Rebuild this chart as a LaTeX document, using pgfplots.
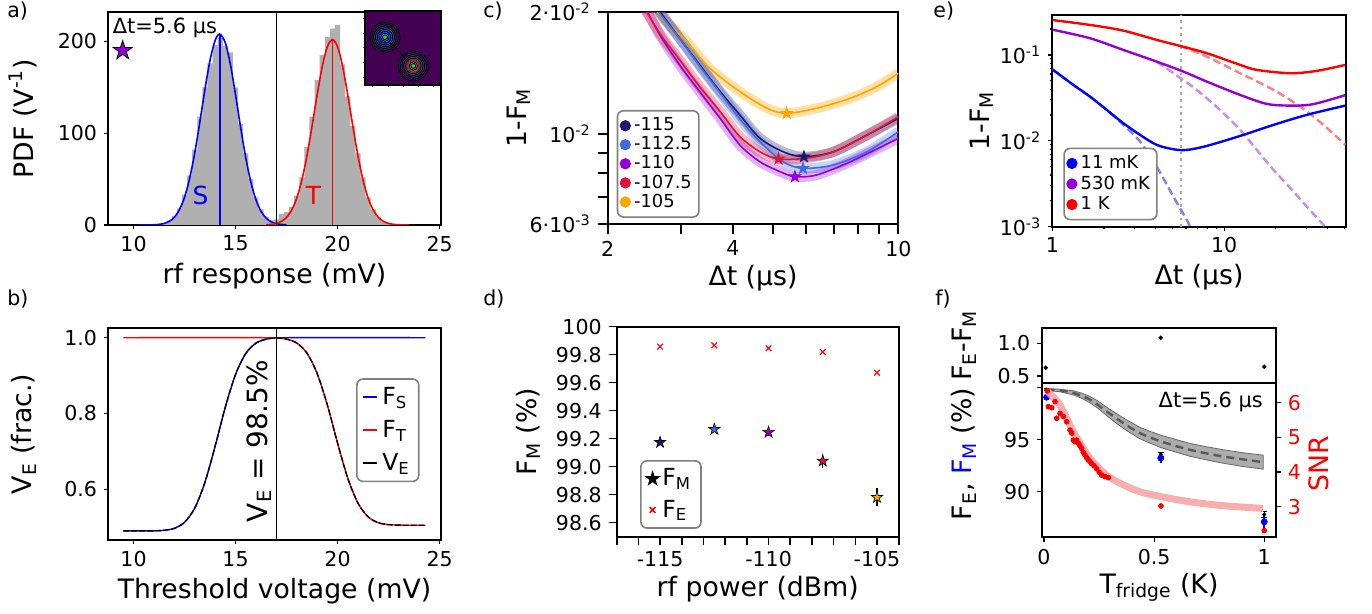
\documentclass[border=0pt]{standalone}
\usepackage{fontspec}
\setmainfont{DejaVu Sans}
\usepackage{pgfplots}
\pgfplotsset{compat=1.18}
\definecolor{histgray}{HTML}{B0B0B0}
\definecolor{cA}{HTML}{191970}
\definecolor{cB}{HTML}{4169E1}
\definecolor{cC}{HTML}{9400D3}
\definecolor{cD}{HTML}{DC143C}
\definecolor{cE}{HTML}{FFA500}
\definecolor{virA}{HTML}{440154}
\definecolor{virB}{HTML}{31688E}
\definecolor{virC}{HTML}{21918C}
\definecolor{virD}{HTML}{35B779}
\definecolor{virE}{HTML}{90D743}
\definecolor{pinkband}{HTML}{F4A0A0}
\definecolor{dblue}{HTML}{8080FF}
\definecolor{dpurple}{HTML}{C98AEB}
\definecolor{dred}{HTML}{FF8080}
\newcommand{\tickfont}{\fontsize{10.3}{12}\selectfont}
\newcommand{\labfont}{\fontsize{13.4}{16}\selectfont}
\newcommand{\legfont}{\fontsize{9}{10.4}\selectfont}
\newcommand{\legfontb}{\fontsize{11.8}{13.5}\selectfont}
\pgfdeclareplotmark{fstar}{%
  \pgfpathmoveto{\pgfpointpolar{90}{\pgfplotmarksize}}%
  \pgfpathlineto{\pgfpointpolar{126}{0.382*\pgfplotmarksize}}%
  \pgfpathlineto{\pgfpointpolar{162}{\pgfplotmarksize}}%
  \pgfpathlineto{\pgfpointpolar{198}{0.382*\pgfplotmarksize}}%
  \pgfpathlineto{\pgfpointpolar{234}{\pgfplotmarksize}}%
  \pgfpathlineto{\pgfpointpolar{270}{0.382*\pgfplotmarksize}}%
  \pgfpathlineto{\pgfpointpolar{306}{\pgfplotmarksize}}%
  \pgfpathlineto{\pgfpointpolar{342}{0.382*\pgfplotmarksize}}%
  \pgfpathlineto{\pgfpointpolar{18}{\pgfplotmarksize}}%
  \pgfpathlineto{\pgfpointpolar{54}{0.382*\pgfplotmarksize}}%
  \pgfpathclose
  \pgfusepathqfillstroke
}
\pgfplotsset{
 myaxis/.style={scale only axis, anchor=south west, tick align=outside,
   xtick pos=left, ytick pos=left, tick label style={font=\tickfont},
   label style={font=\labfont}, axis line style={line width=0.8bp},
   major tick length=2bp, minor tick length=2bp,
   tick style={black, line width=0.6bp}, legend cell align=left},
 myleg/.style={legend style={draw=gray, line width=0.8bp, rounded corners=3bp, fill=white,
   inner xsep=1.5bp, inner ysep=1bp, anchor=north west}},
}
\begin{document}
\begin{tikzpicture}
\useasboundingbox (0,0) rectangle (686bp,307bp);
% panel letters
\node[anchor=north west, inner sep=0, font=\tickfont] at (3.5bp,306bp) {a)};
\node[anchor=north west, inner sep=0, font=\tickfont] at (3.5bp,162bp) {b)};
\node[anchor=north west, inner sep=0, font=\tickfont] at (241.5bp,306bp) {c)};
\node[anchor=north west, inner sep=0, font=\tickfont] at (241.5bp,162bp) {d)};
\node[anchor=north west, inner sep=0, font=\tickfont] at (466.5bp,306bp) {e)};
\node[anchor=north west, inner sep=0, font=\tickfont] at (467.5bp,162bp) {f)};

% ---------------- panel a
\begin{axis}[myaxis, at={(54bp,194.5bp)}, width=166.5bp, height=106.5bp,
  xmin=8.75, xmax=25.07, ymin=0, ymax=232,
  xtick={10,15,20,25}, xticklabels={10,15,20,25},
  ytick={0,100,200}, yticklabels={0,100,200},
  xlabel={rf response (mV)}, ylabel={PDF (V\textsuperscript{-1})},
  xlabel style={at={(axis description cs:0.5,-0.277)}, anchor=base},
  ylabel style={at={(axis description cs:-0.224,0.5)}, anchor=base}]
\addplot[fill=histgray, draw=none, const plot mark mid] coordinates {
(11.0,0) (11.25,1) (11.5,2) (11.75,5) (12.0,10) (12.25,18) (12.5,33) (12.75,54)
(13.0,82) (13.25,118) (13.5,150) (13.75,176) (14.0,196) (14.25,204) (14.5,195)
(14.75,188) (15.0,150) (15.25,110) (15.5,78) (15.75,50) (16.0,30) (16.25,17)
(16.5,9) (16.75,5) (17.0,6) (17.25,12) (17.5,14) (17.75,20) (18.0,32) (18.25,52)
(18.5,85) (18.75,118) (19.0,158) (19.25,185) (19.5,205) (19.75,214) (20.0,218)
(20.25,175) (20.5,140) (20.75,108) (21.0,78) (21.25,52) (21.5,30) (21.75,17)
(22.0,9) (22.25,4) (22.5,2) (22.75,1) (23.0,0)} \closedcycle;
\addplot[blue, line width=0.8bp, smooth] coordinates {
(10.25,0.01) (10.5,0.03) (10.75,0.08) (11.0,0.25) (11.25,0.67) (11.5,1.69) (11.75,3.9)
(12.0,8.4) (12.25,16.6) (12.5,30.2) (12.75,50.6) (13.0,78.3) (13.25,111.9) (13.5,147.5)
(13.75,179.3) (14.0,201.0) (14.23,208) (14.5,198.4) (14.75,174.7) (15.0,141.8)
(15.25,106.2) (15.5,73.4) (15.75,46.8) (16.0,27.5) (16.25,14.9) (16.5,7.5) (16.75,3.45)
(17.0,1.47) (17.25,0.58) (17.5,0.21)};
\addplot[red, line width=0.8bp, smooth] coordinates {
(16.5,0.26) (16.75,0.69) (17.0,1.70) (17.25,3.91) (17.5,8.27) (17.75,16.2) (18.0,29.2)
(18.25,48.8) (18.5,75.3) (18.75,107.5) (19.0,141.6) (19.25,172.5) (19.5,194.2)
(19.75,202) (20.0,194.2) (20.25,172.5) (20.5,141.6) (20.75,107.5) (21.0,75.3)
(21.25,48.8) (21.5,29.2) (21.75,16.2) (22.0,8.27) (22.25,3.91) (22.5,1.70) (22.75,0.69)
(23.0,0.26) (23.25,0.09) (23.5,0.03)};
\addplot[blue, line width=0.8bp] coordinates {(14.23,0) (14.23,208)};
\addplot[red, line width=0.8bp] coordinates {(19.75,0) (19.75,202)};
\addplot[black, line width=0.6bp] coordinates {(17,0) (17,232)};
\addplot[only marks, mark=fstar, mark size=5bp, mark options={fill=cC, draw=black, line width=0.4bp}] coordinates {(9.47,190)};
\node[blue, font=\fontsize{12.5}{14}\selectfont] at (axis cs:13.28,32.6) {S};
\node[red, font=\fontsize{12.5}{14}\selectfont] at (axis cs:18.82,32.6) {T};
\node[anchor=base west, inner sep=0, font=\fontsize{10.5}{12}\selectfont] at (axis cs:8.97,209) {Δt=5.6 µs};
\end{axis}
% inset
\begin{axis}[at={(182.5bp,264.5bp)}, anchor=south west, scale only axis, width=38bp, height=37.2bp,
  xmin=0, xmax=1, ymin=0, ymax=1, xtick={0.1,0.3,0.5,0.7,0.9}, ytick={0.1,0.3,0.5,0.7,0.9},
  xticklabels={}, yticklabels={}, tick align=outside, xtick pos=left, ytick pos=left,
  major tick length=1bp, tick style={black!60, line width=0.3bp},
  axis background/.style={fill=virA}, axis line style={line width=1bp}]
\addplot[only marks, mark=*, mark size=7.5bp, mark options={draw=none, fill=virB, fill opacity=0.15}] coordinates {(0.263,0.642) (0.636,0.256)};
\addplot[only marks, mark=*, mark size=6.6bp, mark options={draw=none, fill=virB, fill opacity=0.2}] coordinates {(0.263,0.642) (0.636,0.256)};
\addplot[only marks, mark=*, mark size=5.7bp, mark options={draw=none, fill=virB, fill opacity=0.25}] coordinates {(0.263,0.642) (0.636,0.256)};
\addplot[only marks, mark=*, mark size=4.8bp, mark options={draw=none, fill=virC, fill opacity=0.3}] coordinates {(0.263,0.642) (0.636,0.256)};
\addplot[only marks, mark=*, mark size=3.9bp, mark options={draw=none, fill=virC, fill opacity=0.35}] coordinates {(0.263,0.642) (0.636,0.256)};
\addplot[only marks, mark=*, mark size=3bp, mark options={draw=none, fill=virD, fill opacity=0.35}] coordinates {(0.263,0.642) (0.636,0.256)};
\addplot[only marks, mark=*, mark size=2.1bp, mark options={draw=none, fill=virD, fill opacity=0.4}] coordinates {(0.263,0.642) (0.636,0.256)};
\addplot[only marks, mark=*, mark size=1.2bp, mark options={draw=none, fill=virE, fill opacity=0.5}] coordinates {(0.263,0.642) (0.636,0.256)};
\addplot[black, line width=0.4bp] coordinates {(0.263,0.642) (0.636,0.256)};
\addplot[only marks, mark=o, mark size=2.85bp, blue, line width=0.6bp] coordinates {(0.263,0.642)};
\addplot[only marks, mark=o, mark size=2.85bp, red, line width=0.6bp] coordinates {(0.636,0.256)};
\end{axis}

% ---------------- panel b
\begin{axis}[myaxis, myleg, at={(54bp,37bp)}, width=166.5bp, height=106bp,
  xmin=8.75, xmax=25.07, ymin=0.466, ymax=1.0256,
  xtick={10,15,20,25}, xticklabels={10,15,20,25},
  ytick={0.6,0.8,1.0}, yticklabels={0.6,0.8,1.0},
  xlabel={Threshold voltage (mV)}, ylabel={V\textsubscript{E} (frac.)},
  xlabel style={at={(axis description cs:0.5,-0.274)}, anchor=base},
  ylabel style={at={(axis description cs:-0.229,0.5)}, anchor=base},
  legend style={at={(0.745,0.763)}, font=\legfontb, row sep=2.5bp, inner xsep=2.5bp, inner ysep=2bp},
  legend image code/.code={\draw[#1, line width=1.2bp] (0bp,0bp) -- (7bp,0bp);}]
\addlegendimage{blue}\addlegendentry{F\textsubscript{S}}
\addlegendimage{red}\addlegendentry{F\textsubscript{T}}
\addlegendimage{black}\addlegendentry{V\textsubscript{E}}
\addplot[blue, line width=0.7bp, smooth, forget plot] coordinates {
(9.5,0.490) (10,0.490) (10.5,0.490) (11,0.4902) (11.5,0.4916) (12,0.4968) (12.5,0.5127)
(13,0.5501) (13.5,0.6182) (14,0.7136) (14.5,0.8169) (15,0.9028) (15.5,0.9582) (16,0.9856)
(16.5,0.9961) (17,0.9995) (17.5,1.0) (24.3,1.0)};
\addplot[red, line width=0.7bp, smooth, forget plot] coordinates {
(9.5,1.0) (16.5,1.0) (17,0.9995) (17.5,0.9962) (18,0.9860) (18.5,0.9594) (19,0.9057)
(19.5,0.8223) (20,0.7220) (20.5,0.6294) (21,0.5633) (21.5,0.5270) (22,0.5116)
(22.5,0.5066) (23,0.5052) (23.5,0.5050) (24.3,0.5050)};
\addplot[black, line width=0.7bp, dash pattern=on 3bp off 1bp, smooth, forget plot] coordinates {
(9.5,0.490) (10,0.490) (10.5,0.490) (11,0.4902) (11.5,0.4916) (12,0.4968) (12.5,0.5127)
(13,0.5501) (13.5,0.6182) (14,0.7136) (14.5,0.8169) (15,0.9028) (15.5,0.9582) (16,0.9856)
(16.5,0.9961) (17,0.9995) (17.5,0.9962) (18,0.9860) (18.5,0.9594) (19,0.9057)
(19.5,0.8223) (20,0.7220) (20.5,0.6294) (21,0.5633) (21.5,0.5270) (22,0.5116)
(22.5,0.5066) (23,0.5052) (23.5,0.5050) (24.3,0.5050)};
\addplot[black, line width=0.6bp, forget plot] coordinates {(17,0.466) (17,1.0256)};
\node[rotate=90, anchor=base, inner sep=0, font=\fontsize{14}{16}\selectfont] at (axis cs:16.56,0.7275) {V\textsubscript{E} = 98.5\%};
\end{axis}

% ---------------- panel c
\begin{axis}[myaxis, myleg, at={(303.85bp,195bp)}, width=145.3bp, height=106bp,
  xmode=log, ymode=log, xmin=2, xmax=10, ymin=0.006, ymax=0.02,
  axis line style={line width=1.1bp},
  xtick={2,4,10}, xticklabels={2,4,10}, minor xtick={3,5,6,7,8,9},
  ytick={0.006,0.01,0.02}, yticklabels={6·10\textsuperscript{-3},10\textsuperscript{-2},2·10\textsuperscript{-2}},
  minor ytick={0.007,0.008,0.009},
  major tick length=5bp, minor tick length=5bp, tick style={line width=1bp},
  xlabel={Δt (µs)}, ylabel={1-F\textsubscript{M}},
  xlabel style={at={(axis description cs:0.5,-0.288)}, anchor=base},
  ylabel style={at={(axis description cs:-0.281,0.5)}, anchor=base},
  legend style={at={(0.031,0.538)}, font=\legfont, row sep=-2.6bp, inner ysep=1.5bp},
  legend image code/.code={\draw[#1] plot coordinates {(2.5bp,0bp)};}]
\addlegendimage{only marks, mark=*, mark size=2.4bp, cA}\addlegendentry{-115}
\addlegendimage{only marks, mark=*, mark size=2.4bp, cB}\addlegendentry{-112.5}
\addlegendimage{only marks, mark=*, mark size=2.4bp, cC}\addlegendentry{-110}
\addlegendimage{only marks, mark=*, mark size=2.4bp, cD}\addlegendentry{-107.5}
\addlegendimage{only marks, mark=*, mark size=2.4bp, cE}\addlegendentry{-105}
\addplot[cE, line width=5bp, opacity=0.35, smooth, forget plot] coordinates {(2.55,0.0208) (2.82,0.01858) (3.10,0.0169) (3.52,0.01453) (4.16,0.01272) (4.83,0.01158) (5.39,0.01125) (6.37,0.01158) (7.66,0.01225) (8.87,0.01308) (10,0.01412)};
\addplot[cA, line width=5bp, opacity=0.3, smooth, forget plot] coordinates {(2.6,0.0208) (2.98,0.01722) (3.33,0.0148) (3.73,0.01272) (4.16,0.01114) (4.65,0.00976) (5.29,0.00904) (5.93,0.00879) (6.98,0.00904) (8.40,0.00994) (10,0.01093)};
\addplot[cB, line width=5bp, opacity=0.3, smooth, forget plot] coordinates {(2.6,0.0205) (2.98,0.0172) (3.33,0.0147) (3.73,0.01262) (4.16,0.01090) (4.65,0.00957) (5.29,0.00854) (5.9,0.00823) (6.98,0.00839) (8.40,0.00904) (10,0.01013)};
\addplot[cC, line width=5bp, opacity=0.3, smooth, forget plot] coordinates {(2.4,0.0215) (2.67,0.01755) (2.98,0.0148) (3.33,0.01272) (3.73,0.01093) (4.16,0.00939) (4.65,0.00854) (5.19,0.00808) (5.64,0.00785) (6.37,0.00793) (7.66,0.00854) (10,0.00976)};
\addplot[cD, line width=5bp, opacity=0.3, smooth, forget plot] coordinates {(2.4,0.0212) (2.67,0.0177) (2.98,0.01523) (3.33,0.01308) (3.73,0.01135) (4.16,0.00985) (4.65,0.00904) (5.15,0.00868) (6.02,0.00872) (6.98,0.00904) (8.40,0.00994) (10,0.01103)};
\addplot[cE, line width=0.8bp, smooth, forget plot] coordinates {(2.55,0.0208) (2.82,0.01858) (3.10,0.0169) (3.52,0.01453) (4.16,0.01272) (4.83,0.01158) (5.39,0.01125) (6.37,0.01158) (7.66,0.01225) (8.87,0.01308) (10,0.01412)};
\addplot[cA, line width=0.8bp, smooth, forget plot] coordinates {(2.6,0.0208) (2.98,0.01722) (3.33,0.0148) (3.73,0.01272) (4.16,0.01114) (4.65,0.00976) (5.29,0.00904) (5.93,0.00879) (6.98,0.00904) (8.40,0.00994) (10,0.01093)};
\addplot[cB, line width=0.8bp, smooth, forget plot] coordinates {(2.6,0.0205) (2.98,0.0172) (3.33,0.0147) (3.73,0.01262) (4.16,0.01090) (4.65,0.00957) (5.29,0.00854) (5.9,0.00823) (6.98,0.00839) (8.40,0.00904) (10,0.01013)};
\addplot[cC, line width=0.8bp, smooth, forget plot] coordinates {(2.4,0.0215) (2.67,0.01755) (2.98,0.0148) (3.33,0.01272) (3.73,0.01093) (4.16,0.00939) (4.65,0.00854) (5.19,0.00808) (5.64,0.00785) (6.37,0.00793) (7.66,0.00854) (10,0.00976)};
\addplot[cD, line width=0.8bp, smooth, forget plot] coordinates {(2.4,0.0212) (2.67,0.0177) (2.98,0.01523) (3.33,0.01308) (3.73,0.01135) (4.16,0.00985) (4.65,0.00904) (5.15,0.00868) (6.02,0.00872) (6.98,0.00904) (8.40,0.00994) (10,0.01103)};
\addplot[only marks, mark=fstar, mark size=3bp, cA, forget plot] coordinates {(5.93,0.00879)};
\addplot[only marks, mark=fstar, mark size=3bp, cB, forget plot] coordinates {(5.9,0.00823)};
\addplot[only marks, mark=fstar, mark size=3bp, cC, forget plot] coordinates {(5.64,0.00785)};
\addplot[only marks, mark=fstar, mark size=3bp, cD, forget plot] coordinates {(5.15,0.00868)};
\addplot[only marks, mark=fstar, mark size=3bp, cE, forget plot] coordinates {(5.39,0.01125)};
\end{axis}

% ---------------- panel d
\begin{axis}[myaxis, myleg, at={(308.35bp,38.65bp)}, width=141bp, height=105bp,
  axis line style={line width=1.1bp},
  xmin=-117, xmax=-104, ymin=98.5, ymax=100,
  xtick={-115,-110,-105}, xticklabels={-115,-110,-105},
  minor xtick={-117,-116,-114,-113,-112,-111,-109,-108,-107,-106,-104},
  ytick={98.6,98.8,99.0,99.2,99.4,99.6,99.8,100},
  yticklabels={98.6,98.8,99.0,99.2,99.4,99.6,99.8,100},
  major tick length=4bp, minor tick length=4bp, tick style={line width=0.8bp},
  xlabel={rf power (dBm)}, ylabel={F\textsubscript{M} (\%)},
  xlabel style={at={(axis description cs:0.5,-0.286)}, anchor=base},
  ylabel style={at={(axis description cs:-0.284,0.5)}, anchor=base},
  legend style={at={(0.083,0.365)}, font=\legfontb, row sep=1.5bp, inner xsep=3bp, inner ysep=2bp},
  legend image code/.code={\draw[#1] plot coordinates {(4bp,0bp)};}]
\addlegendimage{only marks, mark=fstar, mark size=3bp, black}\addlegendentry{F\textsubscript{M}}
\addlegendimage{only marks, mark=x, mark size=2bp, red}\addlegendentry{F\textsubscript{E}}
\addplot[only marks, mark=x, mark size=2bp, red, line width=0.6bp, forget plot] coordinates {(-115,99.857) (-112.5,99.867) (-110,99.846) (-107.5,99.819) (-105,99.671)};
\addplot[only marks, black, mark=fstar, mark size=3bp, mark options={fill=cA, draw=black, line width=0.3bp}, error bars/.cd, y dir=both, y explicit, error bar style={black, line width=0.6bp}, error mark=none] coordinates {(-115,99.174) +- (0,0.02)};
\addplot[only marks, black, mark=fstar, mark size=3bp, mark options={fill=cB, draw=black, line width=0.3bp}, error bars/.cd, y dir=both, y explicit, error bar style={black, line width=0.6bp}, error mark=none] coordinates {(-112.5,99.267) +- (0,0.02)};
\addplot[only marks, black, mark=fstar, mark size=3bp, mark options={fill=cC, draw=black, line width=0.3bp}, error bars/.cd, y dir=both, y explicit, error bar style={black, line width=0.6bp}, error mark=none] coordinates {(-110,99.246) +- (0,0.025)};
\addplot[only marks, black, mark=fstar, mark size=3bp, mark options={fill=cD, draw=black, line width=0.3bp}, error bars/.cd, y dir=both, y explicit, error bar style={black, line width=0.6bp}, error mark=none] coordinates {(-107.5,99.041) +- (0,0.05)};
\addplot[only marks, black, mark=fstar, mark size=3bp, mark options={fill=cE, draw=black, line width=0.3bp}, error bars/.cd, y dir=both, y explicit, error bar style={black, line width=0.6bp}, error mark=none] coordinates {(-105,98.781) +- (0,0.065)};
\end{axis}

% ---------------- panel e
\begin{axis}[myaxis, myleg, at={(526.15bp,193.65bp)}, width=146.7bp, height=106bp,
  xmode=log, ymode=log, xmin=1, xmax=51, ymin=0.001, ymax=0.294,
  axis line style={line width=1bp},
  xtick={1,10}, xticklabels={1,10}, minor xtick={2,3,4,5,6,7,8,9,20,30,40,50},
  ytick={0.001,0.01,0.1}, yticklabels={10\textsuperscript{-3},10\textsuperscript{-2},10\textsuperscript{-1}},
  minor ytick={0.002,0.003,0.004,0.005,0.006,0.007,0.008,0.009,0.02,0.03,0.04,0.05,0.06,0.07,0.08,0.09,0.2},
  major tick length=2bp, minor tick length=1.2bp,
  xlabel={Δt (µs)}, ylabel={1-F\textsubscript{M}},
  xlabel style={at={(axis description cs:0.5,-0.275)}, anchor=base},
  ylabel style={at={(axis description cs:-0.215,0.5)}, anchor=base},
  legend style={at={(0.0375,0.373)}, font=\legfont, row sep=-1.8bp, inner ysep=1.5bp},
  legend image code/.code={\draw[#1] plot coordinates {(2.5bp,0bp)};}]
\addlegendimage{only marks, mark=*, mark size=2.4bp, blue}\addlegendentry{11 mK}
\addlegendimage{only marks, mark=*, mark size=2.4bp, cC}\addlegendentry{530 mK}
\addlegendimage{only marks, mark=*, mark size=2.4bp, red}\addlegendentry{1 K}
\addplot[gray!70, dotted, line width=1.3bp, forget plot] coordinates {(5.6,0.001) (5.6,0.294)};
\addplot[dblue, dash pattern=on 4bp off 2bp, line width=1.2bp, smooth, forget plot] coordinates {(1,0.068) (1.325,0.0448) (1.658,0.0327) (2.074,0.0229) (2.591,0.0153) (3.243,0.0098) (4.055,0.00501) (5.066,0.00224) (6.064,0.0012) (6.4,0.00095)};
\addplot[dpurple, dash pattern=on 4bp off 2bp, line width=1.2bp, smooth, forget plot] coordinates {(4.055,0.0835) (5.07,0.0612) (6.34,0.0448) (7.93,0.0313) (9.9,0.021) (12.4,0.0134) (15.5,0.00783) (19.4,0.00458) (24.3,0.00281) (30.3,0.00171) (37.9,0.00105) (40,0.00092)};
\addplot[dred, dash pattern=on 4bp off 2bp, line width=1.2bp, smooth, forget plot] coordinates {(5.54,0.1273) (7.93,0.0955) (12.4,0.0612) (19.4,0.0392) (27.7,0.025) (37.9,0.0153) (50.7,0.00896)};
\addplot[blue, line width=1.2bp, smooth, forget plot] coordinates {(1,0.068) (1.325,0.0448) (1.658,0.0327) (2.074,0.0229) (2.591,0.01603) (3.243,0.01172) (4.055,0.00896) (5.066,0.00798) (6.064,0.00783) (7.93,0.00872) (12.4,0.0114) (19.4,0.01534) (30.3,0.02005) (50.7,0.0257)};
\addplot[cC, line width=1.2bp, smooth, forget plot] coordinates {(1,0.197) (1.658,0.1564) (2.591,0.1143) (4.055,0.0835) (5.79,0.064) (7.93,0.0489) (12.4,0.0342) (17.7,0.0269) (24.3,0.0257) (33,0.0267) (50.7,0.034)};
\addplot[red, line width=1.2bp, smooth, forget plot] coordinates {(1,0.255) (1.658,0.2234) (2.591,0.1919) (4.055,0.1495) (5.54,0.1273) (7.93,0.1047) (12.4,0.0765) (15.5,0.0669) (24.3,0.0612) (34.6,0.0652) (50.7,0.0765)};
\end{axis}

% ---------------- panel f top
\begin{axis}[myaxis, at={(521.15bp,115.65bp)}, width=116.7bp, height=27.5bp,
  xmin=-0.0077, xmax=1.052, ymin=0.397, ymax=1.239, axis line style={line width=1bp},
  xtick=\empty, ytick={0.5,1.0}, yticklabels={0.5,1.0}, major tick length=2.5bp,
  ylabel={F\textsubscript{E}-F\textsubscript{M}},
  ylabel style={at={(axis description cs:-0.302,0.676)}, anchor=base}]
\addplot[only marks, mark=*, mark size=0.9bp, black] coordinates {(0.008,0.627) (0.53,1.086) (1.0,0.642)};
\end{axis}
% ---------------- panel f bottom (left)
\begin{axis}[myaxis, at={(521.15bp,38.35bp)}, width=116.7bp, height=77.3bp,
  xmin=-0.0077, xmax=1.052, ymin=85.6, ymax=100.5, axis line style={line width=1bp},
  xtick={0,0.5,1}, xticklabels={0,0.5,1}, ytick={90,95,100}, yticklabels={90,95,{}},
  major tick length=2.5bp,
  xlabel={T\textsubscript{fridge} (K)},
  ylabel={F\textsubscript{E}, \textcolor{blue}{F\textsubscript{M}} (\%)},
  xlabel style={at={(axis description cs:0.5,-0.362)}, anchor=base},
  ylabel style={at={(axis description cs:-0.302,0.539)}, anchor=base}]
\addplot[fill=gray, fill opacity=0.65, draw=black!60, line width=0.4bp] coordinates {(0.012,99.94) (0.072,99.87) (0.133,99.72) (0.171,99.50) (0.209,99.17) (0.247,98.70) (0.284,98.14) (0.322,97.62) (0.36,97.11) (0.398,96.64) (0.435,96.20) (0.483,95.80) (0.531,95.44) (0.600,95.02) (0.662,94.65) (0.740,94.32) (0.813,94.04) (0.900,93.76) (0.995,93.51)
(0.995,92.17) (0.900,92.43) (0.813,92.74) (0.740,93.05) (0.662,93.41) (0.600,93.80) (0.531,94.24) (0.483,94.66) (0.435,95.10) (0.398,95.58) (0.36,96.11) (0.322,96.70) (0.284,97.34) (0.247,98.00) (0.209,98.57) (0.171,99.00) (0.133,99.32) (0.072,99.63) (0.012,99.74)} -- cycle;
\addplot[black!65, dash pattern=on 4bp off 2.5bp, line width=1.2bp, smooth] coordinates {(0.012,99.84) (0.072,99.75) (0.133,99.52) (0.209,98.87) (0.284,97.74) (0.36,96.61) (0.435,95.65) (0.531,94.84) (0.662,94.03) (0.813,93.39) (0.995,92.84)};
\addplot[only marks, mark=*, mark size=0.8bp, black, error bars/.cd, y dir=both, y explicit, error bar style={black, line width=0.5bp}, error mark options={rotate=90, mark size=1.5bp, black}] coordinates {(0.012,99.84) +- (0,0.12) (0.53,93.6) +- (0,0.2) (1.0,87.8) +- (0,0.25)};
\addplot[only marks, mark=*, mark size=1.5bp, blue, error bars/.cd, y dir=both, y explicit, error bar style={blue, line width=1bp}, error mark=none] coordinates {(0.012,99.1) +- (0,0.1) (0.53,93.23) +- (0,0.44) (1.0,87.09) +- (0,0.73)};
\node[anchor=base west, inner sep=0, font=\fontsize{10.5}{12}\selectfont] at (axis cs:0.519,98.07) {Δt=5.6 µs};
\end{axis}
% ---------------- panel f bottom (right, SNR)
\begin{axis}[scale only axis, anchor=south west, at={(521.15bp,38.35bp)}, width=116.7bp, height=77.3bp,
  xmin=-0.0077, xmax=1.052, ymin=2.117, ymax=6.577,
  hide x axis, axis y line*=right, axis line style={line width=1bp},
  tick align=outside, ytick={3,4,5,6}, yticklabels={3,4,5,6},
  tick label style={font=\tickfont}, yticklabel style={red}, major tick length=2.5bp,
  tick style={black, line width=0.6bp},
  ylabel={SNR}, label style={font=\labfont},
  ylabel style={red, at={(axis description cs:1.2254,0.474)}, anchor=base}]
\addplot[pinkband, line width=3.5bp, opacity=0.85, smooth] coordinates {(0.012,6.35) (0.072,5.93) (0.133,5.16) (0.209,4.40) (0.284,3.91) (0.36,3.63) (0.435,3.43) (0.531,3.29) (0.662,3.14) (0.813,3.03) (0.995,2.95)};
\addplot[only marks, mark=*, mark size=1.2bp, red] coordinates {
(0.015,6.34) (0.0197,5.885) (0.035,5.856) (0.050,6.03) (0.0576,5.55) (0.0726,5.69)
(0.0877,5.60) (0.103,5.45) (0.118,5.21) (0.126,5.12) (0.133,4.92) (0.141,4.875)
(0.148,4.92) (0.156,4.83) (0.163,4.76) (0.171,4.68) (0.178,4.57) (0.186,4.49)
(0.194,4.41) (0.201,4.35) (0.209,4.30) (0.216,4.24) (0.227,4.18) (0.239,4.09)
(0.251,3.99) (0.262,3.91) (0.277,3.87) (0.292,3.84) (0.531,3.02) (1.0,2.31)};
\end{axis}
\end{tikzpicture}
\end{document}
